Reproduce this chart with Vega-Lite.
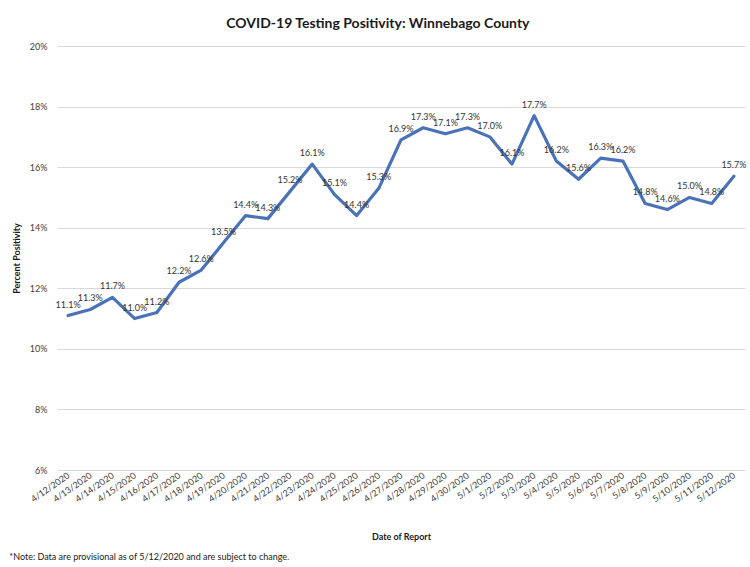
{
  "$schema": "https://vega.github.io/schema/vega-lite/v6.json",
  "padding": {"left": 9, "top": 17, "right": 5, "bottom": 5},
  "background": "white",
  "config": {"font": "Lato", "view": {"stroke": null}},
  "title": {
    "text": "COVID-19 Testing Positivity: Winnebago County",
    "fontSize": 14,
    "fontWeight": "bold",
    "color": "#1a1a1a",
    "anchor": "middle",
    "offset": 11
  },
  "vconcat": [
    {
      "width": 688,
      "height": 424,
      "title": {
        "text": "*Note: Data are provisional as of 5/12/2020 and are subject to change.",
        "orient": "bottom",
        "anchor": "start",
        "fontSize": 9,
        "fontWeight": "normal",
        "color": "#1a1a1a",
        "offset": 11,
        "dx": -3
      },
      "data": {
        "values": [
          {"date": "4/12/2020", "positivity": 0.111},
          {"date": "4/13/2020", "positivity": 0.113},
          {"date": "4/14/2020", "positivity": 0.117},
          {"date": "4/15/2020", "positivity": 0.110},
          {"date": "4/16/2020", "positivity": 0.112},
          {"date": "4/17/2020", "positivity": 0.122},
          {"date": "4/18/2020", "positivity": 0.126},
          {"date": "4/19/2020", "positivity": 0.135},
          {"date": "4/20/2020", "positivity": 0.144},
          {"date": "4/21/2020", "positivity": 0.143},
          {"date": "4/22/2020", "positivity": 0.152},
          {"date": "4/23/2020", "positivity": 0.161},
          {"date": "4/24/2020", "positivity": 0.151},
          {"date": "4/25/2020", "positivity": 0.144},
          {"date": "4/26/2020", "positivity": 0.153},
          {"date": "4/27/2020", "positivity": 0.169},
          {"date": "4/28/2020", "positivity": 0.173},
          {"date": "4/29/2020", "positivity": 0.171},
          {"date": "4/30/2020", "positivity": 0.173},
          {"date": "5/1/2020", "positivity": 0.170},
          {"date": "5/2/2020", "positivity": 0.161},
          {"date": "5/3/2020", "positivity": 0.177},
          {"date": "5/4/2020", "positivity": 0.162},
          {"date": "5/5/2020", "positivity": 0.156},
          {"date": "5/6/2020", "positivity": 0.163},
          {"date": "5/7/2020", "positivity": 0.162},
          {"date": "5/8/2020", "positivity": 0.148},
          {"date": "5/9/2020", "positivity": 0.146},
          {"date": "5/10/2020", "positivity": 0.150},
          {"date": "5/11/2020", "positivity": 0.148},
          {"date": "5/12/2020", "positivity": 0.157}
        ]
      },
      "encoding": {
        "x": {
          "field": "date",
          "type": "ordinal",
          "sort": null,
          "scale": {"type": "point", "padding": 0.5},
          "axis": {
            "title": "Date of Report",
            "titleFontSize": 9,
            "titleFontWeight": "bold",
            "titleColor": "#1a1a1a",
            "titlePadding": 29,
            "labelAngle": -35,
            "labelAlign": "right",
            "labelBaseline": "middle",
            "labelFontSize": 9,
            "labelColor": "#404040",
            "labelPadding": 4,
            "ticks": false,
            "domain": false,
            "grid": false
          }
        },
        "y": {
          "field": "positivity",
          "type": "quantitative",
          "scale": {"domain": [0.06, 0.2], "nice": false, "zero": false},
          "axis": {
            "title": "Percent Positivity",
            "titleFontSize": 9,
            "titleFontWeight": "bold",
            "titleColor": "#1a1a1a",
            "titlePadding": 8,
            "format": ".0%",
            "values": [0.06, 0.08, 0.1, 0.12, 0.14, 0.16, 0.18, 0.2],
            "labelFontSize": 9,
            "labelColor": "#404040",
            "labelPadding": 10,
            "ticks": false,
            "domain": false,
            "grid": true,
            "gridColor": "#d9d9d9",
            "gridWidth": 1
          }
        }
      },
      "layer": [
        {
          "mark": {"type": "line", "color": "#4a72b8", "strokeWidth": 3.2, "strokeJoin": "round", "strokeCap": "round"}
        },
        {
          "mark": {"type": "text", "dy": -11, "baseline": "middle", "align": "center", "fontSize": 9, "color": "#333333"},
          "encoding": {"text": {"field": "positivity", "type": "quantitative", "format": ".1%"}}
        }
      ]
    }
  ]
}
